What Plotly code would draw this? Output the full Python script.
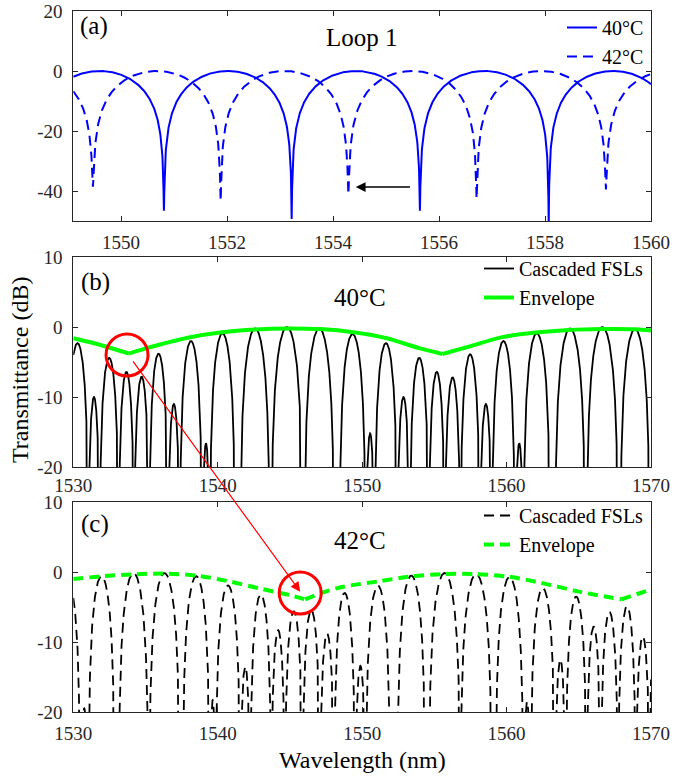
import numpy as np
import plotly.graph_objects as go

# ---------------- data ----------------
# (a) Loop 1 alone: transmission nulls (nm), null depths (dB), lobe peak levels (dB)
loop1_null_nm_40 = [1548.38, 1550.81, 1553.22, 1555.64, 1558.07, 1560.50]
loop1_null_db_40 = [-46.0, -46.6, -49.3, -46.6, -52.0, -47.0]
loop1_peak_db_40 = [0.0, 0.0, 0.0, 0.0, 0.0]

loop1_null_nm_42 = [1547.04, 1549.47, 1551.88, 1554.29, 1556.71, 1559.15, 1561.58]
loop1_null_db_42 = [-40.0, -38.6, -43.3, -41.1, -42.5, -39.5, -40.0]
loop1_peak_db_42 = [0.0, 0.0, 0.0, 0.0, 0.0, 0.0]

# (b) cascaded FSLs at 40 °C: fringe nulls (nm) and the level of each fringe between them (dB)
fsl_null_nm_40 = [1529.54, 1531.04, 1531.82, 1533.14, 1534.21, 1535.25, 1536.55, 1537.37,
                  1538.92, 1539.45, 1541.20, 1541.56, 1543.60, 1543.71, 1545.87, 1546.00,
                  1548.06, 1548.43, 1550.24, 1550.86, 1552.43, 1553.29, 1554.61, 1555.72,
                  1556.80, 1558.15, 1558.98, 1560.58, 1561.17, 1563.01, 1563.35, 1565.44,
                  1565.54, 1567.72, 1567.87, 1569.91, 1570.30]
fsl_peak_db_40 = [-2.3, -10.0, -4.4, -6.4, -7.1, -3.8, -11.0, -2.0, -16.6, -0.9, -23.0, -0.2,
                  -40.0, 0.0, -40.0, -0.2, -25.0, -1.0, -15.2, -2.3, -10.0, -4.4, -6.4, -7.2,
                  -3.9, -11.0, -2.0, -16.6, -0.9, -23.0, -0.2, -40.0, 0.0, -40.0, -0.3, -22.0]

# (c) cascaded FSLs at 42 °C
fsl_null_nm_42 = [1528.99, 1530.47, 1531.04, 1532.86, 1533.14, 1535.20, 1535.25, 1537.37,
                  1537.57, 1539.45, 1539.85, 1541.56, 1542.25, 1543.71, 1544.65, 1545.87,
                  1547.08, 1548.06, 1549.51, 1550.24, 1551.94, 1552.43, 1554.37, 1554.61,
                  1556.80, 1558.98, 1559.23, 1561.17, 1561.66, 1563.35, 1564.09, 1565.54,
                  1566.52, 1567.72, 1568.95, 1569.91, 1571.38]
fsl_peak_db_42 = [-2.2, -19.5, -0.6, -22.0, -0.15, -40.0, -0.15, -30.0, -0.6, -18.3, -1.9, -13.5,
                  -3.2, -8.3, -5.6, -5.4, -8.8, -3.0, -13.4, -1.95, -21.0, -0.5, -30.0, -0.14,
                  -0.3, -28.0, -0.7, -18.5, -2.3, -12.5, -3.5, -7.8, -5.7, -4.9, -9.2, -1.0]

# envelopes (nm, dB); cusp points split the curve into smooth segments
env_nm_40 = [1530.0, 1531.5, 1533.0, 1533.85, 1534.8, 1536.0, 1538.0, 1540.3, 1542.6, 1544.8,
             1547.1, 1549.4, 1551.7, 1554.0, 1555.56, 1557.4, 1559.7, 1562.0, 1564.3, 1566.6,
             1568.9, 1570.0]
env_db_40 = [-1.6, -2.35, -3.25, -3.8, -3.2, -2.5, -1.5, -0.75, -0.35, -0.2,
             -0.3, -0.75, -1.6, -3.05, -3.85, -2.8, -1.45, -0.8, -0.42, -0.28,
             -0.32, -0.5]
env_cusp_nm_40 = [1533.85, 1555.56]

env_nm_42 = [1530.0, 1532.0, 1534.1, 1536.3, 1538.5, 1540.7, 1543.0, 1545.0, 1546.05, 1547.3,
             1548.7, 1551.1, 1553.3, 1555.6, 1557.8, 1560.2, 1562.4, 1565.0, 1567.95, 1570.0]
env_db_42 = [-1.0, -0.6, -0.35, -0.22, -0.5, -1.3, -2.4, -3.3, -3.9, -2.9,
             -2.1, -1.35, -0.65, -0.3, -0.3, -0.68, -1.55, -2.8, -3.9, -2.5]
env_cusp_nm_42 = [1546.05, 1567.95]

# ticks
xticks_a = [1550, 1552, 1554, 1556, 1558, 1560]
yticks_a = [-40, -20, 0, 20]
xticks_bc = [1530, 1540, 1550, 1560, 1570]
yticks_bc = [-20, -10, 0, 10]

# marked features
circle_b = (1533.72, -4.0)
circle_c = (1545.71, -3.0)
shift_arrow_a = ((1555.48, -38.7), (1554.43, -38.7))


# ---------------- spectrum builder ----------------
def fringe_spectrum(nulls, peaks_db, lo, hi, null_db=None, step=0.004):
    nulls = np.asarray(nulls, float)
    lam = np.union1d(np.arange(lo, hi + step, step), nulls[(nulls >= lo) & (nulls <= hi)])
    T = np.full(lam.shape, 1e-7)
    for i, (dl, dr, pk) in enumerate(zip(nulls[:-1], nulls[1:], peaks_db)):
        m = (lam >= dl) & (lam <= dr)
        arch = 10 ** (pk / 10) * np.sin(np.pi * (lam[m] - dl) / (dr - dl)) ** 2
        if null_db is not None:
            near_left = (lam[m] - dl) < (dr - lam[m])
            arch = arch + np.where(near_left, 10 ** (null_db[i] / 10), 10 ** (null_db[i + 1] / 10))
        T[m] = np.maximum(T[m], arch)
    return lam, 10 * np.log10(T)


def split_at_cusps(xs, ys, cusps):
    ox, oy = [], []
    for x, y in zip(xs, ys):
        ox.append(x)
        oy.append(y)
        if x in cusps:
            ox += [None, x]
            oy += [None, y]
    return ox, oy


BLUE, GREEN, RED, AXC = "#0000ff", "#00ff00", "#ff0000", "#262626"
FONT = "Liberation Serif, Times New Roman, serif"

fig = go.Figure()

la, ta = fringe_spectrum(loop1_null_nm_40, loop1_peak_db_40, 1549.1, 1560, loop1_null_db_40)
fig.add_trace(go.Scatter(x=la, y=ta, mode="lines", name="40°C", legend="legend",
                         line=dict(color=BLUE, width=2), xaxis="x", yaxis="y"))
la, ta = fringe_spectrum(loop1_null_nm_42, loop1_peak_db_42, 1549.1, 1560, loop1_null_db_42)
fig.add_trace(go.Scatter(x=la, y=ta, mode="lines", name="42°C", legend="legend",
                         line=dict(color=BLUE, width=2, dash="10px,6px"), xaxis="x", yaxis="y"))

lb, tb = fringe_spectrum(fsl_null_nm_40, fsl_peak_db_40, 1530, 1570)
fig.add_trace(go.Scatter(x=lb, y=tb, mode="lines", name="Cascaded FSLs", legend="legend2",
                         line=dict(color="black", width=1.8), xaxis="x2", yaxis="y2"))
ex, ey = split_at_cusps(env_nm_40, env_db_40, env_cusp_nm_40)
fig.add_trace(go.Scatter(x=ex, y=ey, mode="lines", name="Envelope", legend="legend2",
                         line=dict(color=GREEN, width=4, shape="spline", smoothing=0.8),
                         xaxis="x2", yaxis="y2"))

lc, tc = fringe_spectrum(fsl_null_nm_42, fsl_peak_db_42, 1530, 1570)
fig.add_trace(go.Scatter(x=lc, y=tc, mode="lines", name="Cascaded FSLs", legend="legend3",
                         line=dict(color="black", width=1.8, dash="10px,6px"), xaxis="x3", yaxis="y3"))
ex, ey = split_at_cusps(env_nm_42, env_db_42, env_cusp_nm_42)
fig.add_trace(go.Scatter(x=ex, y=ey, mode="lines", name="Envelope", legend="legend3",
                         line=dict(color=GREEN, width=4, dash="10px,6px", shape="spline", smoothing=0.8),
                         xaxis="x3", yaxis="y3"))

W, H = 674, 777
X0, X1 = 73.3 / W, 651 / W
dom = {"a": (1 - 221 / H, 1 - 11 / H), "b": (1 - 467 / H, 1 - 257 / H), "c": (1 - 712 / H, 1 - 502 / H)}

axis_style = dict(showline=True, linecolor=AXC, linewidth=1, mirror="ticks", ticks="inside",
                  ticklen=5, tickwidth=1, tickcolor=AXC, showgrid=False, zeroline=False,
                  automargin=False, tickfont=dict(family=FONT, size=19, color=AXC),
                  tickmode="array")


def tick_text(vals):
    return [str(v) for v in vals]


fig.update_layout(
    template="none",
    xaxis=dict(axis_style, domain=[X0, X1], anchor="y", range=[1549.1, 1560],
               tickvals=xticks_a, ticktext=tick_text(xticks_a), ticklabelstandoff=4),
    yaxis=dict(axis_style, domain=list(dom["a"]), anchor="x", range=[-50, 20],
               tickvals=yticks_a, ticktext=tick_text(yticks_a), ticklabelstandoff=6),
    xaxis2=dict(axis_style, domain=[X0, X1], anchor="y2", range=[1530, 1570],
                tickvals=xticks_bc, ticktext=tick_text(xticks_bc), ticklabelstandoff=1),
    yaxis2=dict(axis_style, domain=list(dom["b"]), anchor="x2", range=[-20, 10],
                tickvals=yticks_bc, ticktext=tick_text(yticks_bc), ticklabelstandoff=6),
    xaxis3=dict(axis_style, domain=[X0, X1], anchor="y3", range=[1530, 1570],
                tickvals=xticks_bc, ticktext=tick_text(xticks_bc), ticklabelstandoff=4),
    yaxis3=dict(axis_style, domain=list(dom["c"]), anchor="x3", range=[-20, 10],
                tickvals=yticks_bc, ticktext=tick_text(yticks_bc), ticklabelstandoff=6),
)

legend_style = dict(xanchor="right", yanchor="top", x=X1 - 2 / W, bgcolor="rgba(0,0,0,0)",
                    borderwidth=0, font=dict(family=FONT, size=20, color="black"),
                    tracegroupgap=0)
fig.update_layout(
    legend=dict(legend_style, y=1 - 8 / H),
    legend2=dict(legend_style, y=1 - 249 / H),
    legend3=dict(legend_style, y=1 - 496 / H),
)


def label(text, x, y, size=25, xanchor="center", angle=0):
    fig.add_annotation(text=text, x=x / W, y=1 - y / H, xref="paper", yref="paper",
                       showarrow=False, xanchor=xanchor, yanchor="middle", textangle=angle,
                       font=dict(family=FONT, size=size, color="black"))


label("(a)", 78, 26, xanchor="left")
label("Loop 1", 362.5, 38)
label("(b)", 79, 282, xanchor="left")
label("40°C", 360, 297.5)
label("(c)", 79, 524, xanchor="left")
label("42°C", 360, 540)
label("Transmittance (dB)", 20, 370, size=24, angle=-90)
label("Wavelength (nm)", 362, 760, size=24)

# temperature shift of the Loop 1 notch
(tx, ty), (hx, hy) = shift_arrow_a
fig.add_annotation(x=hx, y=hy, ax=tx, ay=ty, xref="x", yref="y", axref="x", ayref="y",
                   text="", showarrow=True, arrowhead=2, arrowsize=1.3, arrowwidth=1.5,
                   arrowcolor="black", standoff=0)

# envelope dip markers and the link between them
for (cx, cy), xr, yr in [(circle_b, "x2", "y2"), (circle_c, "x3", "y3")]:
    fig.add_shape(type="circle", xref=xr, yref=yr, xsizemode="pixel", ysizemode="pixel",
                  xanchor=cx, yanchor=cy, x0=-21, x1=21, y0=-21, y1=21,
                  line=dict(color=RED, width=3))

# arrow tail lies inside panel (b); expressed in panel (c) data units
fig.add_annotation(x=1545.71, y=-2.81, ax=1534.06, ay=30.29, xref="x3", yref="y3",
                   axref="x3", ayref="y3", text="", showarrow=True, arrowhead=2,
                   arrowsize=1.6, arrowwidth=1.2, arrowcolor=RED, standoff=0)

fig.update_layout(width=W, height=H, autosize=False, margin=dict(l=0, r=0, t=0, b=0),
                  paper_bgcolor="white", plot_bgcolor="white",
                  font=dict(family=FONT, color="black"))

fig.write_html("out.html")
